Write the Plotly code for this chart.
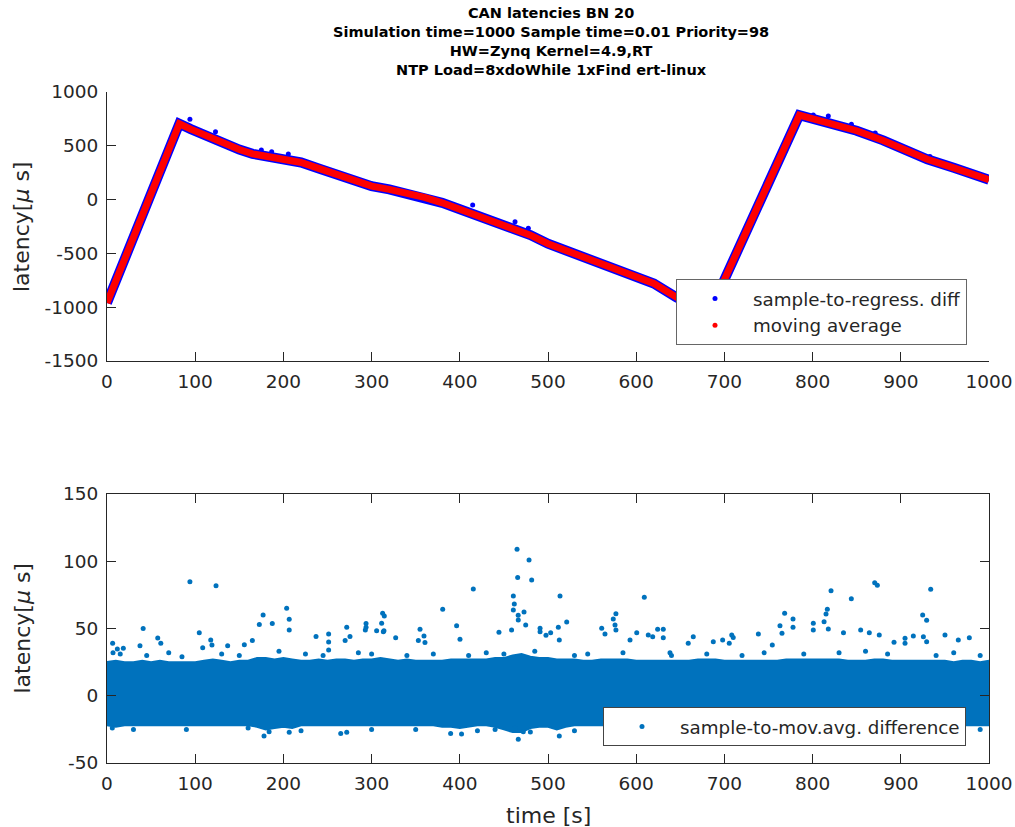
import plotly.graph_objects as go

# ---------------- data ----------------
# top: moving-average curve knots (time s, latency us)
ma_t = [0, 82, 95, 110, 130, 150, 165, 180, 200, 220, 240, 260, 280, 300, 320, 340, 360,
        380, 400, 420, 440, 460, 480, 500, 520, 540, 560, 580, 600, 620, 646, 683,
        785, 800, 820, 850, 880, 900, 930, 960, 1000]
ma_v = [-960, 705, 655, 600, 535, 465, 425, 405, 385, 345, 290, 230, 170, 125, 95, 60, 20,
        -30, -90, -145, -200, -260, -330, -410, -470, -530, -600, -660, -705, -780, -910, -1050,
        785, 755, 715, 640, 550, 475, 375, 295, 185]
# top: sample-to-regression outliers
reg_out_t = [94, 123, 175, 186.7, 205.6, 414.6, 462.6, 477.7, 800.8, 817.8, 844, 871, 933]
reg_out_v = [746, 631, 461, 445, 424, -50, -205, -267, 786, 777, 700, 620, 400]

# bottom: dense band envelope
env_t = list(range(0, 1001, 10))
env_hi = [25, 26, 25, 25, 26, 25, 26, 25, 25, 25, 25,
          26, 27, 26, 25, 26, 26, 28, 28, 27, 28,
          27, 26, 26, 27, 26, 27, 27, 26, 27, 27,
          28, 27, 26, 27, 26, 26, 26, 26, 27, 27,
          27, 27, 27, 28, 28, 30, 31, 29, 28, 28,
          27, 27, 27, 26, 26, 27, 27, 27, 27, 26,
          26, 26, 26, 26, 26, 26, 27, 27, 27, 26,
          26, 26, 26, 26, 26, 26, 27, 27, 27, 27,
          27, 27, 27, 26, 26, 26, 27, 27, 26, 26,
          26, 26, 26, 26, 26, 25, 26, 26, 25, 26]
env_lo = [-22, -23, -22, -22, -22, -22, -22, -22, -22, -22, -22,
          -22, -22, -22, -22, -22, -22, -23, -25, -24, -23,
          -24, -22, -22, -22, -22, -22, -22, -22, -22, -22,
          -22, -22, -22, -22, -22, -22, -22, -23, -23, -24,
          -23, -22, -22, -23, -25, -27, -27, -24, -23, -23,
          -25, -23, -22, -22, -22, -22, -22, -22, -22, -22,
          -22, -22, -22, -22, -22, -22, -22, -22, -22, -22,
          -22, -22, -22, -22, -22, -22, -22, -22, -22, -22,
          -22, -22, -22, -22, -22, -22, -22, -22, -22, -22,
          -22, -22, -22, -22, -22, -22, -22, -22, -22, -22]
# bottom: isolated samples outside the band
out_t = [94, 123.6, 41, 104.6, 57.5, 61, 6.4, 11.7, 18.5, 6.8, 37.4, 177, 172.7, 187.4, 203.7,
         206.6, 206.6, 178, 183.8, 206.6, 6, 117.6, 119, 108.5, 136.8, 155.7, 164.8,
         237, 251.3, 251.3, 251.3, 271.8, 275.5, 270, 293.7, 293.7, 292.9, 312.5, 314.4, 311.4,
         314, 327.3, 305.7, 265, 271.8,
         464.9, 478.5, 465.6, 481.5, 415.3, 513.6, 609.2, 380.6, 460.7, 461.8, 460.7, 472.8,
         466.2, 466.3, 474.7, 458.7, 396.4, 400.2, 444.4, 354.9, 353, 360.5, 359.4, 313.3,
         491, 491, 497.7, 503, 511.7, 512.8, 521.2, 560.9, 564.6, 574, 577, 576, 577, 593,
         600.6, 613.7, 618.7, 624.3, 630.7, 630.7, 389.6, 402, 466.3, 512.8, 462.6, 472,
         870.4, 873.4, 933.9, 820.9, 843.9, 924.8, 929.3, 768.3, 777.8, 777.8, 763, 765.3,
         816.7, 815.2, 813, 817.8, 800.8, 800.8, 738.5, 854.5, 835, 864.3, 875.6, 708.3, 710,
         664.7, 659, 687.4, 698, 705.5, 914.2, 925.6, 929.3, 950.1, 965.2, 977.7, 904.8,
         904.8, 892.3, 638.3, 754.3,
         15, 45, 70, 85, 130, 150, 195, 225, 245, 285, 300, 340, 370, 410, 430, 450, 485, 530,
         545, 585, 640, 680, 720, 745, 790, 830, 860, 885, 940, 960, 990,
         30, 90, 160, 220, 300, 350, 420, 440, 480, 530, 990]
out_v = [84.8, 81.8, 50, 46.9, 43, 39, 39, 34.7, 35.3, 32, 37.2, 60, 53, 53.8, 65,
         56.8, 48.9, -30, -26.7, -27.2, -24, 41.4, 37.7, 35.7, 37.2, 38, 41,
         44, 46, 40, 34, 50.9, 44, 41, 53.8, 50.9, 48.9, 61.3, 59.3, 53.9,
         48.4, 43.2, 48.4, -28, -27.2,
         109, 101, 88, 86, 79.4, 74.2, 73.2, 64.3, 74.2, 68.2, 63.8, 62.3,
         59.8, 56.3, 52.6, 48.9, 52.1, 42, 47.2, 49.4, 41, 39.5, 44.4, 47.6,
         50.1, 47.6, 44.9, 46.9, 50.9, 41.5, 54.8, 50.1, 45.9, 57, 61, 52.6, 48.9, 41.4,
         46.9, 45.2, 43.9, 49.4, 49.4, 43.2, -28, -28.4, -32.4, -30, -24.2, -26.7,
         84, 82.1, 79.1, 78.1, 72.2, 60, 56.1, 61.3, 57, 50.9, 52.1, 46.4,
         64.3, 60.8, 55.1, 49.6, 53.9, 48.9, 45.9, 48.9, 46.9, 46.9, 45.2, 45.2, 43.4,
         43.9, 39, 40.2, 41.4, 39, 44.4, 43.9, 40.2, 45.2, 41.4, 43.2, 42.7,
         39, 39.7, 32, 37.7,
         31, 30, 32, 29, 31, 30, 33, 31, 30, 32, 31, 30, 31, 30, 32, 31, 33, 30,
         31, 32, 30, 31, 30, 32, 31, 32, 33, 31, 30, 32, 30,
         -25, -25, -24, -26, -25, -25, -26, -25, -27, -26, -25]

title_lines = ["CAN latencies BN 20",
               "Simulation time=1000 Sample time=0.01 Priority=98",
               "HW=Zynq Kernel=4.9,RT",
               "NTP Load=8xdoWhile 1xFind ert-linux"]
x_ticks = list(range(0, 1001, 100))
x_labels = [str(v) for v in x_ticks]
y1_ticks = [-1500, -1000, -500, 0, 500, 1000]
y1_labels = ["-1500", "-1000", "-500", "0", "500", "1000"]
y2_ticks = [-50, 0, 50, 100, 150]
y2_labels = ["-50", "0", "50", "100", "150"]

# ---------------- styling ----------------
W, H = 1015, 827
FONT = "DejaVu Sans"
AX = "#262626"
BLUE = "rgb(0,0,255)"
RED = "rgb(255,0,0)"
MBLUE = "rgb(0,114,189)"

def px_x(p):
    return p / W

def px_y(p):
    return 1 - p / H

fig = go.Figure()

# top subplot
fig.add_trace(go.Scatter(x=ma_t, y=ma_v, mode="lines", line=dict(color=BLUE, width=10),
                         xaxis="x", yaxis="y", showlegend=False, hoverinfo="skip"))
fig.add_trace(go.Scatter(x=reg_out_t, y=reg_out_v, mode="markers",
                         marker=dict(color=BLUE, size=5), xaxis="x", yaxis="y",
                         showlegend=False, hoverinfo="skip"))
fig.add_trace(go.Scatter(x=ma_t, y=ma_v, mode="lines", line=dict(color=RED, width=7),
                         xaxis="x", yaxis="y", showlegend=False, hoverinfo="skip"))
fig.add_trace(go.Scatter(x=[None], y=[None], mode="markers", name="sample-to-regress. diff",
                         marker=dict(color=BLUE, size=5), xaxis="x", yaxis="y", legend="legend"))
fig.add_trace(go.Scatter(x=[None], y=[None], mode="markers", name="moving average",
                         marker=dict(color=RED, size=5), xaxis="x", yaxis="y", legend="legend"))

# bottom subplot
fig.add_trace(go.Scatter(x=env_t, y=env_lo, mode="lines", line=dict(color=MBLUE, width=2),
                         xaxis="x2", yaxis="y2", showlegend=False, hoverinfo="skip"))
fig.add_trace(go.Scatter(x=env_t, y=env_hi, mode="lines", line=dict(color=MBLUE, width=2),
                         fill="tonexty", fillcolor=MBLUE,
                         xaxis="x2", yaxis="y2", showlegend=False, hoverinfo="skip"))
fig.add_trace(go.Scatter(x=out_t, y=out_v, mode="markers", marker=dict(color=MBLUE, size=5),
                         xaxis="x2", yaxis="y2", showlegend=False, hoverinfo="skip"))
fig.add_trace(go.Scatter(x=[None], y=[None], mode="markers", name="sample-to-mov.avg. difference",
                         marker=dict(color=MBLUE, size=5), xaxis="x2", yaxis="y2", legend="legend2"))

tickfont = dict(family=FONT, size=18.5, color=AX)
common = dict(showgrid=False, zeroline=False, showline=True, linecolor=AX, linewidth=1,
              ticks="inside", ticklen=9, tickcolor=AX, tickwidth=1, tickfont=tickfont,
              automargin=False, tickangle=0, ticklabelstandoff=4)

xdom = [px_x(107), px_x(989)]
fig.update_layout(
    width=W, height=H, margin=dict(l=0, r=0, t=0, b=0),
    paper_bgcolor="white", plot_bgcolor="white",
    xaxis=dict(domain=xdom, range=[0, 1000], tickvals=x_ticks, ticktext=x_labels,
               anchor="y", **common),
    yaxis=dict(domain=[px_y(361), px_y(92)], range=[-1500, 1000], tickvals=y1_ticks,
               ticktext=y1_labels, anchor="x", **common),
    xaxis2=dict(domain=xdom, range=[0, 1000], tickvals=x_ticks, ticktext=x_labels,
                anchor="y2", mirror="ticks", **common),
    yaxis2=dict(domain=[px_y(763), px_y(494)], range=[-50, 150], tickvals=y2_ticks,
                ticktext=y2_labels, anchor="x2", mirror="ticks", **common),
    legend=dict(x=px_x(676), y=px_y(279), xanchor="left", yanchor="top", traceorder="normal",
                bgcolor="white", bordercolor="#666666", borderwidth=1, itemwidth=66,
                font=dict(family=FONT, size=18.3, color=AX), tracegroupgap=0),
    legend2=dict(x=px_x(603), y=px_y(707), xanchor="left", yanchor="top", traceorder="normal",
                 bgcolor="white", bordercolor="#444444", borderwidth=1, itemwidth=66,
                 font=dict(family=FONT, size=18.3, color=AX)),
    showlegend=True,
)

ann = [dict(text="<br>".join("<b>" + s + "</b>" for s in title_lines),
            x=px_x(551), y=px_y(42), xref="paper", yref="paper",
            xanchor="center", yanchor="middle", align="center", showarrow=False,
            font=dict(family=FONT, size=14.5, color="black"))]
ann.append(dict(text="latency[<i>\u03bc</i> s]", x=px_x(22), y=px_y(227), xref="paper",
                yref="paper", xanchor="center", yanchor="middle", textangle=-90,
                showarrow=False, font=dict(family=FONT, size=22, color=AX)))
ann.append(dict(text="latency[<i>\u03bc</i> s]", x=px_x(22), y=px_y(628.5), xref="paper",
                yref="paper", xanchor="center", yanchor="middle", textangle=-90,
                showarrow=False, font=dict(family=FONT, size=22, color=AX)))
ann.append(dict(text="time [s]", x=px_x(548), y=px_y(815), xref="paper", yref="paper",
                xanchor="center", yanchor="middle", showarrow=False,
                font=dict(family=FONT, size=22, color=AX)))
fig.update_layout(annotations=ann)

fig.write_html("out.html")
